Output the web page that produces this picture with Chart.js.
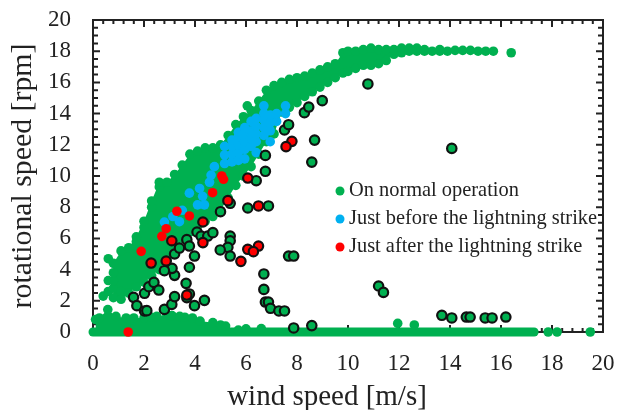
<!DOCTYPE html>
<html>
<head>
<meta charset="utf-8">
<script src="https://cdn.jsdelivr.net/npm/chart.js@4"></script>
<style>
    body { margin: 0; background: #fff; }
    canvas { display: block; }
</style>
</head>
<body>
<canvas id="chart" width="618" height="410"></canvas>
<script>
const seriesNames = ["On normal operation", "Just before the lightning strike", "Just after the lightning strike"];

// the solid green mass: edges
const bandX = [0.8, 1.1, 1.4, 1.7, 2.0, 2.3, 2.6, 2.9, 3.2, 3.5, 3.8, 4.1, 4.4, 4.7, 5.0, 5.3, 5.6, 5.9, 6.2, 6.5, 6.8, 7.1, 7.4, 7.7, 8.0, 8.3, 8.6, 8.9, 9.2, 9.5, 9.8, 10.0, 10.3, 10.6, 10.9, 11.2, 11.5, 11.8, 12.1];
const bandUpper = [4.4, 5.2, 5.4, 6.1, 7.1, 8.4, 9.6, 9.6, 10.1, 10.7, 11.4, 11.6, 11.8, 11.8, 12.0, 12.6, 13.3, 13.8, 14.2, 14.8, 15.5, 15.8, 16.0, 16.2, 16.3, 16.4, 16.6, 16.8, 17.0, 17.2, 17.9, 18.0, 18.0, 18.1, 18.2, 18.1, 18.1, 18.1, 18.2];
const bandLower = [2.2, 2.1, 2.5, 2.9, 3.2, 3.6, 4.0, 4.6, 5.1, 6.0, 6.4, 6.8, 7.1, 7.4, 7.8, 8.6, 9.4, 10.0, 10.6, 11.4, 12.2, 12.7, 14.1, 14.4, 14.7, 15.1, 15.4, 15.7, 16.0, 16.3, 16.6, 16.7, 16.9, 17.1, 17.1, 17.2, 17.4, 17.8, 17.9];

const calmX = [0.1, 0.25, 0.58, 0.9, 1.3, 1.6, 2.0, 2.3, 2.5, 2.9, 3.1, 3.4, 3.6, 3.9, 4.2, 4.7, 5.0, 5.2];
const calmTop = [0.8, 0.9, 1.44, 1.0, 0.9, 0.9, 0.9, 0.95, 1.0, 1.12, 1.05, 1.0, 0.95, 0.9, 0.7, 0.6, 0.45, 0.38];
const calmBase = [0, 0, 0, 0, 0, 0, 0, 0, 0, 0, 0, 0, 0, 0, 0, 0, 0, 0];

const flatRowX = [0, 17.3];
const flatRowY = [0, 0];

// one row per wind speed: [x, [y, y, ...]]
const normalRising = [
    [0.4, [2.3]], [0.6, [2.6, 3.3, 4.7]], [0.8, [2.2, 2.8, 3.3, 3.8, 4.4]],
    [1.1, [2.1, 2.6, 5.2]], [1.4, [2.5, 5.4]], [1.7, [2.9, 5.8, 6.1]], [2.0, [3.2, 6.7, 7.1]],
    [2.3, [3.6, 8.0, 8.4]], [2.6, [4.0, 9.3, 9.6]], [2.9, [4.6, 9.6]], [3.2, [5.1, 10.1]],
    [3.5, [6.0, 10.7]], [3.8, [6.4, 11.4]], [4.1, [6.8, 11.6]], [4.4, [7.1, 11.8]],
    [4.7, [7.4, 11.8]], [5.0, [7.8, 12.0]], [5.3, [8.6, 12.6]], [5.6, [9.4, 13.3]],
    [5.9, [10.0, 13.8]], [6.05, [14.5]], [6.2, [10.6, 14.2]], [6.5, [11.4, 14.8]], [6.8, [12.2, 15.5]],
    [7.1, [12.7, 15.8]], [7.4, [14.1, 16.0]], [7.7, [14.4, 16.2]], [8.0, [14.7, 16.3]], [8.3, [15.1, 16.4]],
    [8.6, [15.4, 16.6]], [8.9, [15.7, 16.8]], [9.2, [16.0, 17.0]], [9.5, [16.3, 17.2]],
    [9.8, [16.6, 17.9]], [10.0, [16.7, 18.0]], [10.3, [16.9, 18.0]], [10.6, [17.1, 18.1]],
    [10.9, [17.1, 18.2]], [11.2, [17.2, 18.1]], [11.5, [17.4, 18.1]], [11.8, [17.8, 18.1]],
    [12.1, [17.9, 18.2]], [12.4, [18.0, 18.2]], [12.7, [18.0, 18.2]], [13.0, [18.0, 18.1]], [13.3, [18.0]], [13.6, [18.0, 18.1]],
    [13.9, [18.0]], [14.2, [18.05]], [14.5, [18.05]], [14.8, [18.05]], [15.1, [18.0]], [15.4, [18.0]], [15.7, [18.0]], [16.4, [17.9]]
];

const normalCalm = [
    [0.1, [0.8]], [0.25, [0.9]], [0.58, [1.44]], [0.9, [1.0]], [1.3, [0.9]], [1.6, [0.9]], [2.0, [0.9]], [2.3, [0.95]],
    [2.5, [1.0]], [2.9, [1.12]], [3.1, [1.05]], [3.4, [1.0]], [3.6, [0.95]], [3.9, [0.9]], [4.2, [0.7]], [4.7, [0.6]],
    [5.0, [0.45]], [5.2, [0.38]], [5.7, [0.12]], [6.0, [0.2]], [6.6, [0.22]], [11.95, [0.55]], [12.6, [0.45]],
    [17.85, [0]], [18.2, [0]], [19.5, [0]]
];

const beforeStrike = [
    [2.8, [7.05]], [3.13, [7.4]], [3.39, [7.07]], [3.5, [7.8]], [3.78, [8.9]], [4.1, [8.15]], [4.18, [9.2]], [4.3, [8.7]], [4.37, [8.15]],
    [4.57, [9.6]], [4.63, [10.06]], [4.76, [10.6]], [5.16, [10.8, 11.35, 11.9]], [5.45, [10.9, 11.4, 11.9, 12.3]],
    [5.7, [11.0, 11.5, 12.0, 12.5, 12.8]], [5.95, [11.1, 11.7, 12.2, 12.7, 13.1]], [6.2, [11.9, 12.4, 12.9, 13.5]],
    [6.4, [11.5, 12.2, 12.7, 13.2, 13.7]], [6.7, [12.6, 13.1, 13.6, 14.0, 14.5]], [6.95, [12.2, 12.9, 13.4, 13.9]], [7.2, [13.5, 14.0]], [7.55, [14.0, 14.5]]
];

const damagedX = [1.59, 1.72, 2.02, 2.19, 2.39, 2.58, 2.02, 2.11, 2.8, 3.09, 3.2, 3.65, 3.68, 3.78, 3.98, 4.37, 3.2, 3.1, 2.8, 3.78, 3.98, 3.2, 3.39, 3.68, 3.78, 4.08, 4.24, 4.5, 4.7, 5.38, 5.38, 5.29, 4.99, 5.38, 6.07, 5.38, 5.0, 6.4, 6.7, 6.7, 6.76, 6.88, 6.96, 7.29, 7.51, 7.67, 7.87, 6.88, 7.87, 8.58, 6.76, 6.76, 7.51, 7.67, 8.29, 8.46, 8.99, 8.69, 8.58, 10.78, 14.07, 11.2, 11.39, 13.68, 14.07, 14.64, 14.79, 15.38, 15.65, 16.19];
const damagedY = [2.22, 1.69, 2.48, 2.9, 3.18, 2.69, 1.35, 1.37, 1.45, 1.77, 2.27, 3.12, 2.2, 2.44, 1.69, 2.03, 3.63, 4.08, 3.93, 4.15, 4.87, 5.0, 5.38, 5.92, 5.51, 6.41, 6.15, 6.15, 6.37, 6.15, 5.85, 5.43, 5.26, 4.87, 7.95, 8.25, 7.71, 9.7, 3.72, 2.73, 1.92, 1.92, 1.52, 1.35, 1.35, 4.87, 4.87, 8.08, 0.26, 0.41, 11.32, 10.3, 12.95, 13.29, 14.06, 14.42, 14.83, 12.3, 10.89, 15.9, 11.77, 2.95, 2.54, 1.07, 0.9, 0.96, 0.96, 0.9, 0.9, 0.96];

const afterPlainX = [1.89, 2.7, 2.87, 3.29, 3.78, 4.69, 5.05, 5.12, 1.38];
const afterPlainY = [5.17, 6.13, 6.62, 7.74, 7.44, 8.93, 10.0, 9.79, 0];
const afterRingedX = [2.28, 2.87, 3.09, 3.68, 4.31, 4.31, 5.29, 6.07, 6.49, 6.07, 6.49, 6.29, 5.8, 7.8, 7.57];
const afterRingedY = [4.42, 4.55, 5.85, 2.37, 7.05, 5.73, 8.42, 5.3, 8.08, 9.87, 5.51, 5.15, 4.53, 12.22, 11.88];

const axisTicks = [0, 2, 4, 6, 8, 10, 12, 14, 16, 18, 20];
const xTitle = "wind speed [m/s]";
const yTitle = "rotational speed [rpm]";

const colorGreen = "#00B050";
const colorBlue = "#00B0F0";
const colorRed = "#FF0000";
const colorInk = "#222222";
const serif = "'Liberation Serif'";

const fromColumns = (columns) => columns.flatMap(([x, ys]) => ys.map((y) => ({ x, y })));
const fromPairs = (xs, ys) => xs.map((x, i) => ({ x, y: ys[i] }));

// lower order is drawn on top
const dots = (label, data, color, radius, order) => ({
    label, data, order, clip: false,
    backgroundColor: color, borderColor: color, borderWidth: 0,
    pointRadius: radius, pointHoverRadius: radius
});
const ringed = (data, color, order) => ({
    data, order, clip: false,
    backgroundColor: color, borderColor: "#111111", borderWidth: 2.2,
    pointRadius: 4.7, pointHoverRadius: 4.7
});
const massEdge = (data, fill, order) => ({
    type: "line", data, fill, order, clip: false,
    backgroundColor: colorGreen, borderWidth: 0, pointRadius: 0, pointHoverRadius: 0
});

// frame with inward ticks on all four sides, under the points
const framePlugin = {
    id: "frame",
    beforeDatasetsDraw(chart) {
        const { ctx, chartArea: a, scales: { x, y } } = chart;
        ctx.save();
        ctx.strokeStyle = colorInk;
        ctx.lineWidth = 2;
        ctx.strokeRect(a.left, a.top, a.right - a.left, a.bottom - a.top);
        ctx.beginPath();
        for (let i = 0; i <= 50; i++) {
            const len = i % 5 === 0 ? 7 : 4;
            const px = x.getPixelForValue(i * 0.4);
            ctx.moveTo(px, a.top); ctx.lineTo(px, a.top + len);
            ctx.moveTo(px, a.bottom); ctx.lineTo(px, a.bottom - len);
        }
        for (let i = 0; i <= 40; i++) {
            const len = i % 4 === 0 ? 7 : 5;
            const py = y.getPixelForValue(i * 0.5);
            ctx.moveTo(a.left, py); ctx.lineTo(a.left + len, py);
            ctx.moveTo(a.right, py); ctx.lineTo(a.right - len, py);
        }
        ctx.stroke();
        ctx.restore();
    }
};

// legend sits inside the plot area, x title is off centre in the original
const textPlugin = {
    id: "insideText",
    afterDraw(chart) {
        const { ctx } = chart;
        const rows = [[colorGreen, 191], [colorBlue, 219], [colorRed, 247]];
        ctx.save();
        ctx.font = "20.4px " + serif;
        ctx.textBaseline = "middle";
        rows.forEach(([color, py], i) => {
            ctx.fillStyle = color;
            ctx.beginPath();
            ctx.arc(340, py, 4.5, 0, Math.PI * 2);
            ctx.fill();
            ctx.fillStyle = colorInk;
            ctx.fillText(seriesNames[i], 349, py);
        });
        ctx.font = "29px " + serif;
        ctx.textBaseline = "alphabetic";
        ctx.textAlign = "center";
        ctx.fillText(xTitle, 327, 405);
        ctx.restore();
    }
};

const scaleFor = (fit, padding, title) => ({
    type: "linear", min: 0, max: 20,
    afterBuildTicks: (scale) => { scale.ticks = axisTicks.map((value) => ({ value })); },
    afterFit: fit,
    grid: { display: false, drawTicks: false },
    border: { display: false },
    ticks: { color: colorInk, font: { family: serif, size: 23 }, padding, maxRotation: 0, autoSkip: false },
    title
});

new Chart(document.getElementById("chart"), {
    type: "scatter",
    data: {
        datasets: [
            massEdge(fromPairs(bandX, bandUpper), "+1", 9),
            massEdge(fromPairs(bandX, bandLower), false, 9),
            massEdge(fromPairs(calmX, calmTop), "+1", 9),
            massEdge(fromPairs(calmX, calmBase), false, 9),
            {
                type: "line", data: fromPairs(flatRowX, flatRowY), order: 8, clip: false,
                borderColor: colorGreen, borderWidth: 9, borderCapStyle: "round", pointRadius: 0, pointHoverRadius: 0
            },
            dots(seriesNames[0], fromColumns(normalCalm).concat(fromColumns(normalRising)), colorGreen, 4.8, 7),
            dots(seriesNames[1], fromColumns(beforeStrike), colorBlue, 4.8, 6),
            ringed(fromPairs(damagedX, damagedY), colorGreen, 5),
            dots(seriesNames[2], fromPairs(afterPlainX, afterPlainY), colorRed, 4.8, 4),
            ringed(fromPairs(afterRingedX, afterRingedY), colorRed, 3)
        ]
    },
    options: {
        responsive: false,
        animation: false,
        layout: { padding: { top: 20, right: 15, left: 0, bottom: 0 } },
        plugins: { legend: { display: false }, tooltip: { enabled: false } },
        scales: {
            x: scaleFor((s) => { s.height = 78; s.paddingLeft = 0; s.paddingRight = 0; }, 18, { display: false }),
            y: scaleFor((s) => { s.width = 93; s.paddingTop = 0; s.paddingBottom = 0; }, 22, {
                display: true, text: yTitle, color: colorInk,
                font: { family: serif, size: 29.8 }, padding: { top: 5, bottom: 0 }
            })
        }
    },
    plugins: [framePlugin, textPlugin]
});
</script>
</body>
</html>
